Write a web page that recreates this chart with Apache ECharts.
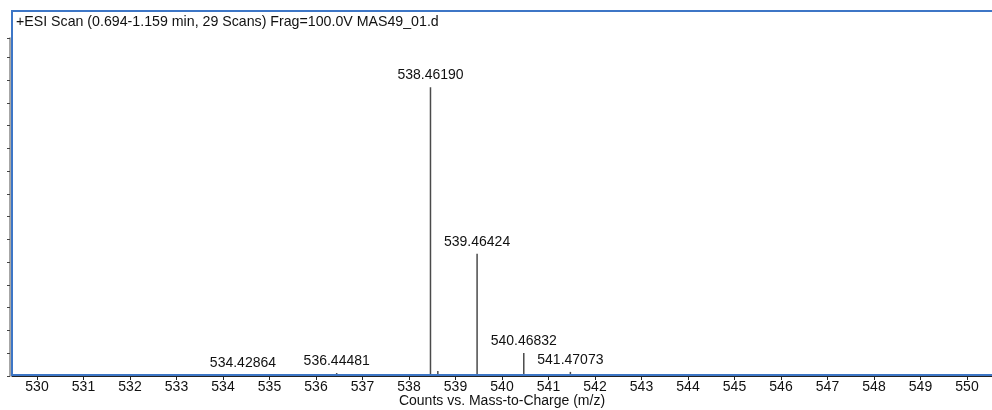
<!DOCTYPE html>
<html>
<head>
<meta charset="utf-8">
<script src="https://cdn.jsdelivr.net/npm/echarts@6/dist/echarts.min.js"></script>
<style>
  html, body { margin: 0; padding: 0; background: #fff; }
  #chart { width: 992px; height: 410px; }
</style>
</head>
<body>
<div id="chart"></div>
<script>
// Spectrum peaks: m/z and abundance (counts x10^5)
const mzValues   = [534.42864, 536.44481, 537.50, 538.46190, 538.62, 539.46424, 540.46832, 541.47073];
const abundances = [0.05,      0.13,      0.04,   12.69,     0.22,   5.37,      1.01,      0.18];
const labelled   = [true,      true,      false,  true,      false,  true,      true,      true];

// Axis tick values
const mzTicks = [530, 531, 532, 533, 534, 535, 536, 537, 538, 539, 540, 541, 542, 543, 544, 545, 546, 547, 548, 549, 550];

const scanTitle = '+ESI Scan (0.694-1.159 min, 29 Scans) Frag=100.0V MAS49_01.d';
const xTitle = 'Counts vs. Mass-to-Charge (m/z)';

const FONT = '"Liberation Sans", Arial, Helvetica, sans-serif';

const peakData = mzValues.map((mz, i) => ({
  value: [mz, abundances[i]],
  label: { show: labelled[i] }
}));

const chart = echarts.init(document.getElementById('chart'), null, { renderer: 'canvas' });
chart.setOption({
  animation: false,
  backgroundColor: '#ffffff',
  grid: { left: 12, right: 0, top: 38, bottom: 34, containLabel: false, outerBoundsMode: 'none' },
  xAxis: {
    type: 'value',
    min: 529.462,
    max: 550.538,
    name: xTitle,
    nameLocation: 'middle',
    nameGap: 18,
    nameMoveOverlap: false,
    nameTextStyle: { fontFamily: FONT, fontSize: 14, color: '#111' },
    axisLine: { show: true, lineStyle: { color: '#222', width: 1.2 } },
    axisTick: { show: true, length: 4, lineStyle: { color: '#222' }, customValues: mzTicks },
    axisLabel: { show: true, margin: 4, fontFamily: FONT, fontSize: 14, color: '#111', customValues: mzTicks },
    splitLine: { show: false }
  },
  yAxis: {
    type: 'value',
    min: 0,
    max: 14.85,
    interval: 1,
    offset: 2,
    axisLine: { show: true, lineStyle: { color: '#888', width: 1.5 } },
    axisTick: { show: true, length: 3, lineStyle: { color: '#444' } },
    axisLabel: { show: false },
    splitLine: { show: false }
  },
  graphic: [
    {
      type: 'rect',
      shape: { x: 12, y: 11, width: 1000, height: 364 },
      style: { fill: 'none', stroke: '#3d76c6', lineWidth: 2 },
      z: 100
    },
    {
      type: 'text',
      left: 16,
      top: 15,
      style: { text: scanTitle, fontFamily: FONT, fontSize: 14.2, fill: '#111' },
      z: 101
    }
  ],
  series: [{
    type: 'bar',
    barWidth: 1.5,
    itemStyle: { color: '#4a4a4a' },
    data: peakData,
    label: {
      position: 'top',
      distance: 5,
      fontFamily: FONT,
      fontSize: 14,
      color: '#111',
      formatter: p => p.value[0].toFixed(5)
    }
  }]
});
</script>
</body>
</html>
